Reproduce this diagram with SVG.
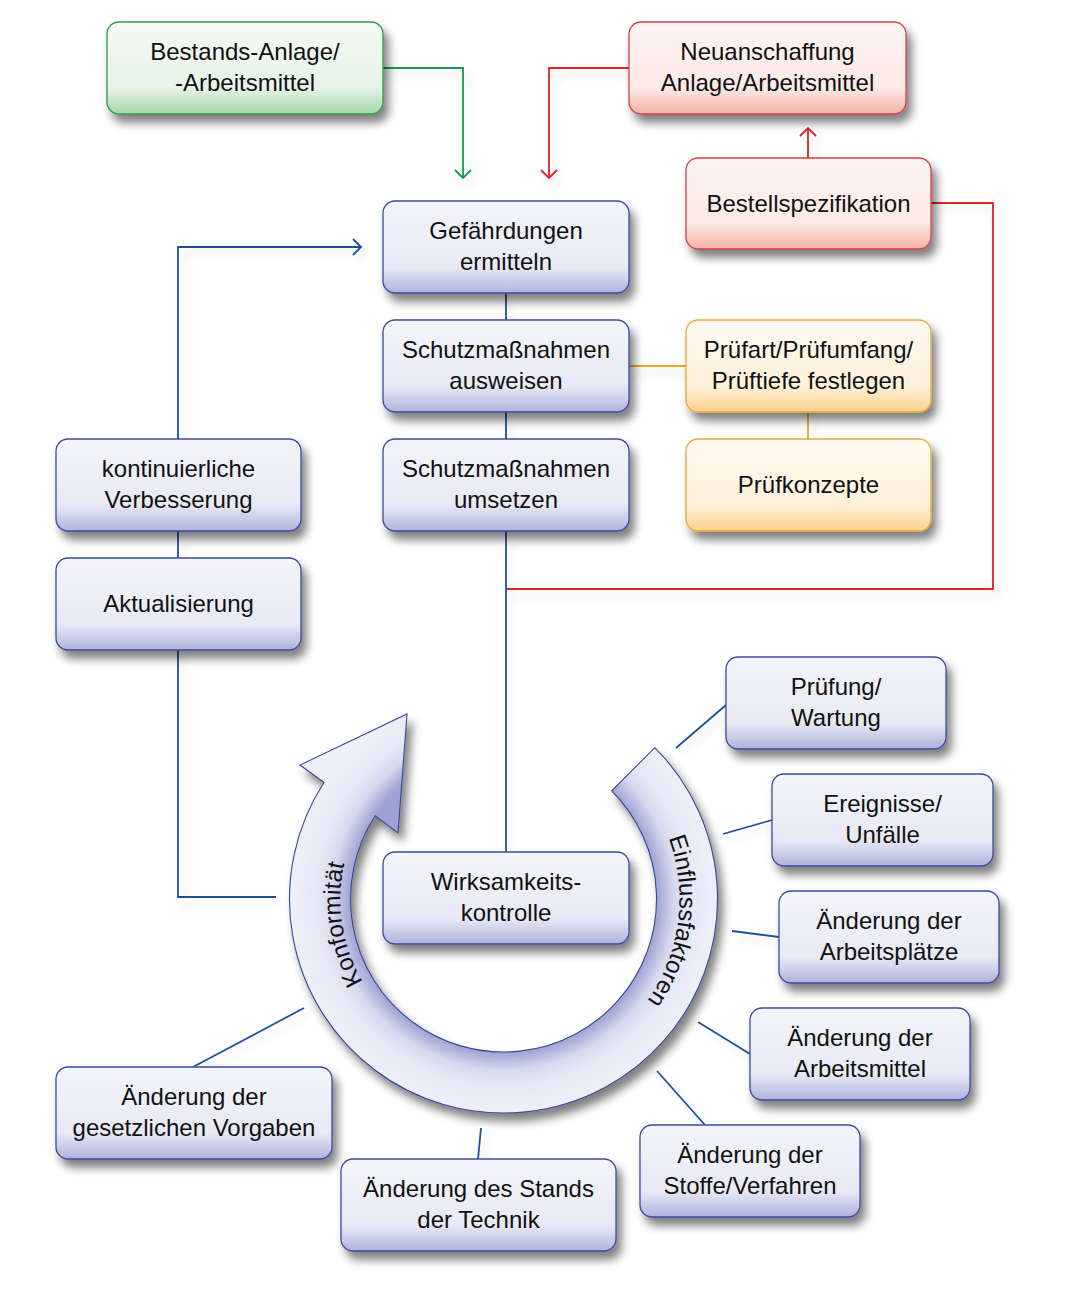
<svg xmlns="http://www.w3.org/2000/svg" width="1072" height="1309" viewBox="0 0 1072 1309">
<defs>
<linearGradient id="gBlue" x1="0" y1="0" x2="0" y2="1">
<stop offset="0" stop-color="#f4f4fa"/><stop offset="0.72" stop-color="#e8e9f5"/><stop offset="1" stop-color="#aeb3dc"/>
</linearGradient>
<linearGradient id="gGreen" x1="0" y1="0" x2="0" y2="1">
<stop offset="0" stop-color="#f4faf4"/><stop offset="0.72" stop-color="#e6f3e6"/><stop offset="1" stop-color="#a4d7a8"/>
</linearGradient>
<linearGradient id="gRed" x1="0" y1="0" x2="0" y2="1">
<stop offset="0" stop-color="#fdf5f3"/><stop offset="0.72" stop-color="#fce9e5"/><stop offset="1" stop-color="#f4b1a3"/>
</linearGradient>
<linearGradient id="gOrange" x1="0" y1="0" x2="0" y2="1">
<stop offset="0" stop-color="#fffaf2"/><stop offset="0.72" stop-color="#fff1da"/><stop offset="1" stop-color="#fcd08c"/>
</linearGradient>
<radialGradient id="gRing" gradientUnits="userSpaceOnUse" cx="503.5" cy="899" r="214">
<stop offset="0" stop-color="#9ea3d3"/><stop offset="0.715" stop-color="#9ea3d3"/><stop offset="0.80" stop-color="#d6d8ee"/><stop offset="0.87" stop-color="#e7e8f5"/><stop offset="1" stop-color="#eeeff8"/>
</radialGradient>
<filter id="shadow" x="-20%" y="-20%" width="150%" height="170%">
<feDropShadow dx="5" dy="8" stdDeviation="5" flood-color="#000" flood-opacity="0.5"/>
</filter>
<filter id="lshadow" x="-20%" y="-20%" width="150%" height="150%">
<feDropShadow dx="5" dy="6" stdDeviation="5" flood-color="#000" flood-opacity="0.12"/>
</filter>
<path id="arcK" d="M 421.5 1040.2 A 163 163 0 0 1 382.4 790.0"/>
<path id="arcE" d="M 632.2 779 A 176 176 0 0 1 596.8 1048.25"/>
</defs>
<style>
text{font-family:"Liberation Sans",Arial,sans-serif;font-size:24px;fill:#111;text-anchor:middle}
.node rect{stroke-width:1.3;filter:url(#shadow)}
.blue rect{fill:url(#gBlue);stroke:#3d4a9c}
.green rect{fill:url(#gGreen);stroke:#2f9a4a}
.red rect{fill:url(#gRed);stroke:#d6404a}
.orange rect{fill:url(#gOrange);stroke:#e6a93a}
.conn path{fill:none;stroke-width:1.8}
.b{stroke:#1f4f9e}
.g{stroke:#1a9a48}
.r{stroke:#e0202c}
.o{stroke:#f0a52a}
</style>
<rect width="1072" height="1309" fill="#ffffff"/>
<g id="connectors" class="conn" filter="url(#lshadow)">
<path class="g" d="M 383 68 H 463 V 178"/>
<path class="g" d="M 455 170 L 463 178 L 471 170"/>
<path class="r" d="M 629 68 H 549 V 178"/>
<path class="r" d="M 541 170 L 549 178 L 557 170"/>
<path class="r" d="M 808 158 V 128"/>
<path class="r" d="M 800 136 L 808 128 L 816 136"/>
<path class="r" d="M 931 203 H 993 V 589 H 506"/>
<path class="b" d="M 506 293 V 320"/>
<path class="b" d="M 506 412 V 439"/>
<path class="b" d="M 506 531 V 852"/>
<path class="o" d="M 629 366 H 686"/>
<path class="o" d="M 808 412 V 439"/>
<path class="b" d="M 178 531 V 558"/>
<path class="b" d="M 178 439 V 247 H 361"/>
<path class="b" d="M 353 239 L 361 247 L 353 255"/>
<path class="b" d="M 178 650 V 897 H 276"/>
<path class="b" d="M 676 748 L 726 705"/>
<path class="b" d="M 723 834 L 772 820"/>
<path class="b" d="M 732 931 L 779 937"/>
<path class="b" d="M 698 1022 L 750 1054"/>
<path class="b" d="M 657 1071 L 705 1125"/>
<path class="b" d="M 481 1128 L 478 1159"/>
<path class="b" d="M 304 1008 L 193 1067"/>
</g>
<g id="ring">
<path d="M 654.8 747.7 A 214 214 0 1 1 324 782.5 L 300 765 L 407 714 L 398 833 L 375.2 815.7 A 153 153 0 1 0 611.7 790.8 Z" fill="url(#gRing)" stroke="#3a4795" stroke-width="1.1" filter="url(#shadow)"/>
<text><textPath href="#arcK" startOffset="50%">Konformität</textPath></text>
<text><textPath href="#arcE" startOffset="50%">Einflussfaktoren</textPath></text>
</g>
<g id="n-bestand" class="node green"><rect x="107" y="22" width="276" height="92" rx="12"/><text x="245" y="60">Bestands-Anlage/</text><text x="245" y="91">-Arbeitsmittel</text></g>
<g id="n-neu" class="node red"><rect x="629" y="22" width="277" height="92" rx="12"/><text x="767.5" y="60">Neuanschaffung</text><text x="767.5" y="91">Anlage/Arbeitsmittel</text></g>
<g id="n-bestell" class="node red"><rect x="686" y="158" width="245" height="91" rx="12"/><text x="808.5" y="211.5">Bestellspezifikation</text></g>
<g id="n-gef" class="node blue"><rect x="383" y="201" width="246" height="92" rx="12"/><text x="506" y="239">Gefährdungen</text><text x="506" y="270">ermitteln</text></g>
<g id="n-ausweisen" class="node blue"><rect x="383" y="320" width="246" height="92" rx="12"/><text x="506" y="358">Schutzmaßnahmen</text><text x="506" y="389">ausweisen</text></g>
<g id="n-umsetzen" class="node blue"><rect x="383" y="439" width="246" height="92" rx="12"/><text x="506" y="477">Schutzmaßnahmen</text><text x="506" y="508">umsetzen</text></g>
<g id="n-pruefart" class="node orange"><rect x="686" y="320" width="245" height="92" rx="12"/><text x="808.5" y="358">Prüfart/Prüfumfang/</text><text x="808.5" y="389">Prüftiefe festlegen</text></g>
<g id="n-pruefkonzepte" class="node orange"><rect x="686" y="439" width="245" height="92" rx="12"/><text x="808.5" y="493">Prüfkonzepte</text></g>
<g id="n-kontinuierlich" class="node blue"><rect x="56" y="439" width="245" height="92" rx="12"/><text x="178.5" y="477">kontinuierliche</text><text x="178.5" y="508">Verbesserung</text></g>
<g id="n-aktualisierung" class="node blue"><rect x="56" y="558" width="245" height="92" rx="12"/><text x="178.5" y="612">Aktualisierung</text></g>
<g id="n-wirksamkeit" class="node blue"><rect x="383" y="852" width="246" height="92" rx="12"/><text x="506" y="890">Wirksamkeits-</text><text x="506" y="921">kontrolle</text></g>
<g id="n-pruefung" class="node blue"><rect x="726" y="657" width="220" height="92" rx="12"/><text x="836" y="695">Prüfung/</text><text x="836" y="726">Wartung</text></g>
<g id="n-ereignisse" class="node blue"><rect x="772" y="774" width="221" height="92" rx="12"/><text x="882.5" y="812">Ereignisse/</text><text x="882.5" y="843">Unfälle</text></g>
<g id="n-arbeitsplaetze" class="node blue"><rect x="779" y="891" width="220" height="92" rx="12"/><text x="889" y="929">Änderung der</text><text x="889" y="960">Arbeitsplätze</text></g>
<g id="n-arbeitsmittel" class="node blue"><rect x="750" y="1008" width="220" height="92" rx="12"/><text x="860" y="1046">Änderung der</text><text x="860" y="1077">Arbeitsmittel</text></g>
<g id="n-stoffe" class="node blue"><rect x="640" y="1125" width="220" height="92" rx="12"/><text x="750" y="1163">Änderung der</text><text x="750" y="1194">Stoffe/Verfahren</text></g>
<g id="n-technik" class="node blue"><rect x="341" y="1159" width="275" height="92" rx="12"/><text x="478.5" y="1197">Änderung des Stands</text><text x="478.5" y="1228">der Technik</text></g>
<g id="n-gesetz" class="node blue"><rect x="56" y="1067" width="276" height="92" rx="12"/><text x="194" y="1105">Änderung der</text><text x="194" y="1136">gesetzlichen Vorgaben</text></g>
</svg>
